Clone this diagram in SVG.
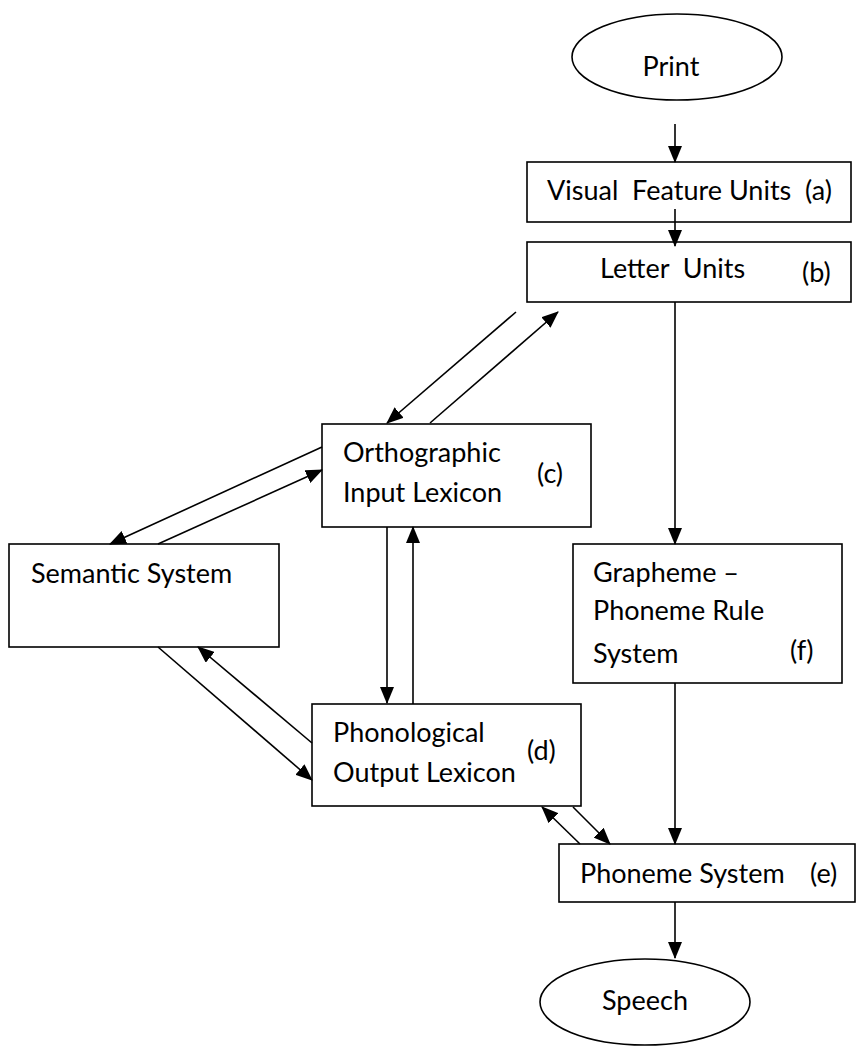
<svg xmlns="http://www.w3.org/2000/svg" width="856" height="1048" viewBox="0 0 856 1048">
<defs>
<marker id="ah" markerUnits="userSpaceOnUse" markerWidth="17" markerHeight="14" refX="16" refY="7" orient="auto">
<path d="M0,0 L17,7 L0,14 z" fill="#000"/>
</marker>
<style>
.box{fill:#fff;stroke:#000;stroke-width:1.6}
.t{font-family:Lato,"Liberation Sans",sans-serif;font-size:27px;fill:#000}
.c line{stroke:#000;stroke-width:1.6;marker-end:url(#ah)}
</style>
</defs>
<rect width="856" height="1048" fill="#fff"/>
<g id="print"><ellipse class="box" cx="677" cy="57" rx="105" ry="43"/><text class="t" x="671" y="76" text-anchor="middle">Print</text></g>
<g id="visual"><rect class="box" x="527" y="162" width="324" height="60"/><text class="t" x="547" y="200" xml:space="preserve">Visual  Feature Units  (a)</text></g>
<g id="letter"><rect class="box" x="527" y="242" width="324" height="60"/><text class="t" x="600" y="278" xml:space="preserve">Letter  Units</text><text class="t" x="802" y="282">(b)</text></g>
<g id="ortho"><rect class="box" x="322" y="424" width="269" height="103"/><text class="t" x="343" y="462">Orthographic</text><text class="t" x="343" y="502">Input Lexicon</text><text class="t" x="537" y="483">(c)</text></g>
<g id="semantic"><rect class="box" x="9" y="544" width="270" height="103"/><text class="t" x="31" y="583">Semantic System</text></g>
<g id="grapheme"><rect class="box" x="573" y="544" width="269" height="139"/><text class="t" x="593" y="582">Grapheme –</text><text class="t" x="593" y="620">Phoneme Rule</text><text class="t" x="593" y="663">System</text><text class="t" x="790" y="660">(f)</text></g>
<g id="phono"><rect class="box" x="312" y="704" width="269" height="102"/><text class="t" x="333" y="742">Phonological</text><text class="t" x="333" y="782">Output Lexicon</text><text class="t" x="527" y="760">(d)</text></g>
<g id="phoneme"><rect class="box" x="559" y="844" width="296" height="58"/><text class="t" x="580" y="883">Phoneme System</text><text class="t" x="810" y="883">(e)</text></g>
<g id="speech"><ellipse class="box" cx="645" cy="1002" rx="105" ry="43"/><text class="t" x="645" y="1010" text-anchor="middle">Speech</text></g>
<g id="connectors" class="c">
<line x1="675" y1="124" x2="675" y2="162"/>
<line x1="675" y1="209" x2="675" y2="246"/>
<line x1="675" y1="302" x2="675" y2="544"/>
<line x1="516" y1="312" x2="387" y2="423"/>
<line x1="430" y1="423" x2="558" y2="312"/>
<line x1="322" y1="447" x2="110" y2="544"/>
<line x1="158" y1="544" x2="322" y2="470"/>
<line x1="387" y1="527" x2="387" y2="703"/>
<line x1="413" y1="704" x2="413" y2="527"/>
<line x1="158" y1="647" x2="312" y2="780"/>
<line x1="312" y1="743" x2="198" y2="647"/>
<line x1="573" y1="807" x2="610" y2="844"/>
<line x1="580" y1="844" x2="542" y2="807"/>
<line x1="675" y1="683" x2="675" y2="844"/>
<line x1="675" y1="902" x2="675" y2="958"/>
</g>
</svg>
